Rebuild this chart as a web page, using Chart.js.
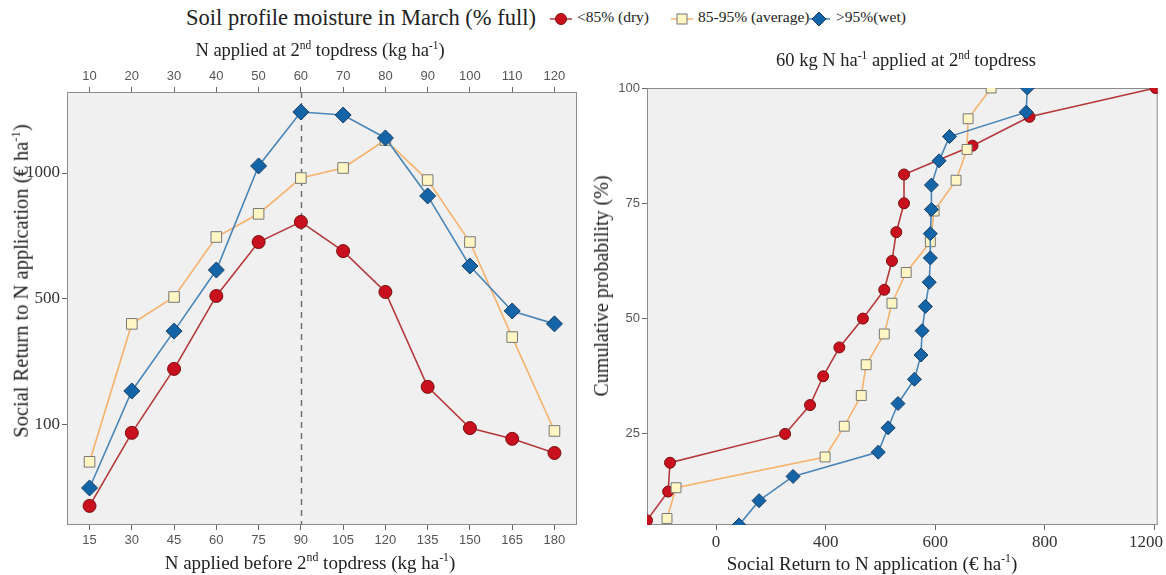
<!DOCTYPE html>
<html>
<head>
<meta charset="utf-8">
<script src="https://cdn.jsdelivr.net/npm/chart.js@4.4.1/dist/chart.umd.min.js"></script>
<style>
body{margin:0;width:1166px;height:575px;background:#fff;position:relative;overflow:hidden;font-family:"Liberation Serif",serif;color:#222;}
#leftBox{position:absolute;left:0;top:0;width:590px;height:575px;}
#rightBox{position:absolute;left:585px;top:0;width:597px;height:575px;}
.txt{position:absolute;white-space:nowrap;}
.ctr{position:absolute;white-space:nowrap;transform:translate(-50%,-50%);line-height:1;}
.vert{position:absolute;white-space:nowrap;transform:translate(-50%,-50%) rotate(-90deg);line-height:1;}
#mainTitle{left:186px;top:5px;font-size:22.5px;}
.leg{top:8px;font-size:15.5px;}
.mk{position:absolute;top:11px;}
sup{font-size:62%;vertical-align:0.6em;line-height:0;}
</style>
</head>
<body>
<div class="txt" id="mainTitle">Soil profile moisture in March (% full)</div>
<svg class="mk" style="left:549px" width="24" height="16"><line x1="1" y1="8" x2="23" y2="8" stroke="#b5383a" stroke-width="1.5"/><circle cx="12" cy="8" r="5.5" fill="#c8101e" stroke="#7a1010"/></svg>
<div class="txt leg" style="left:577px">&lt;85% (dry)</div>
<svg class="mk" style="left:670px" width="24" height="16"><line x1="1" y1="8" x2="23" y2="8" stroke="#f6b26b" stroke-width="1.5"/><rect x="7" y="3" width="10" height="10" fill="#fff6c4" stroke="#777"/></svg>
<div class="txt leg" style="left:698px">85-95% (average)</div>
<svg class="mk" style="left:807px" width="24" height="16"><line x1="1" y1="8" x2="23" y2="8" stroke="#4a86b8" stroke-width="1.5"/><polygon points="12,1 19,8 12,15 5,8" fill="#1464a8" stroke="#173f66"/></svg>
<div class="txt leg" style="left:836px">&gt;95%(wet)</div>
<div id="leftBox"><canvas id="leftChart"></canvas></div>
<div id="rightBox"><canvas id="rightChart"></canvas></div>
<div class="ctr" style="left:320px;top:50px;font-size:18.5px">N applied at 2<sup>nd</sup> topdress (kg ha<sup>-1</sup>)</div>
<div class="ctr" style="left:310px;top:562px;font-size:19px">N applied before 2<sup>nd</sup> topdress (kg ha<sup>-1</sup>)</div>
<div class="vert" style="left:21px;top:281px;font-size:20.5px">Social Return to N application (€ ha<sup>-1</sup>)</div>
<div class="ctr" style="left:906px;top:60px;font-size:18.5px">60 kg N ha<sup>-1</sup> applied at 2<sup>nd</sup> topdress</div>
<div class="vert" style="left:601px;top:286px;font-size:20px">Cumulative probability (%)</div>
<div class="ctr" style="left:872px;top:563px;font-size:19px">Social Return to N application (€ ha<sup>-1</sup>)</div>
<script>
// left panel: return vs N applied
var xBefore = [15, 30, 45, 60, 75, 90, 105, 120, 135, 150, 165, 180];
var xAt2nd = [10, 20, 30, 40, 50, 60, 70, 80, 90, 100, 110, 120];
var returnDry = [-157, 75, 278, 512, 726, 806, 690, 528, 221, 90, 56, 11];
var returnAvg = [-17, 421, 508, 746, 838, 980, 1020, 1131, 972, 726, 379, 81];
var returnWet = [-100, 208, 398, 615, 1028, 1242, 1230, 1139, 909, 631, 462, 421];
var leftYTicks = [100, 500, 1000];
var markerN = 90;

// right panel: cumulative distribution at 60 kg N
var cdfDry = [-252, -175, -168, 252, 343, 391, 425, 468, 507, 521, 529, 543, 543, 668, 772, 1204];
var probDry = [6.25, 12.5, 18.75, 25, 31.25, 37.5, 43.75, 50, 56.25, 62.5, 68.75, 75, 81.25, 87.5, 93.75, 100];
var cdfAvg = [-179, -146, 398, 434, 465, 474, 507, 521, 547, 591, 598, 638, 658, 660, 702];
var probAvg = [6.67, 13.33, 20, 26.67, 33.33, 40, 46.67, 53.33, 60, 66.67, 73.33, 80, 86.67, 93.33, 100];
var cdfWet = [84, 157, 281, 496, 514, 532, 562, 574, 576, 582, 589, 591, 591, 593, 593, 607, 626, 766, 768];
var probWet = [5.26, 10.53, 15.79, 21.05, 26.32, 31.58, 36.84, 42.11, 47.37, 52.63, 57.89, 63.16, 68.42, 73.68, 78.95, 84.21, 89.47, 94.74, 100];
var rightXTicks = [0, 400, 600, 800, 1200];
var rightYTicks = [25, 50, 75, 100];

// the published axes space their labelled ticks evenly, so map values piecewise onto tick index
function toPos(v, ticks) {
    var i = 0;
    while (i < ticks.length - 2 && v > ticks[i + 1]) i++;
    return i + (v - ticks[i]) / (ticks[i + 1] - ticks[i]);
}

var sansTick = {family: 'Liberation Sans', size: 13};
var serifTick = {family: 'Liberation Serif', size: 17};
var tickGrid = {display: true, drawOnChartArea: false, drawTicks: true, tickLength: 5, color: '#666'};

var panelBg = {
    id: 'panelBg',
    beforeDatasetsDraw: function(chart) {
        var a = chart.chartArea, ctx = chart.ctx;
        ctx.save();
        ctx.fillStyle = '#f0f0f0';
        ctx.fillRect(a.left, a.top, a.right - a.left, a.bottom - a.top);
        ctx.strokeStyle = '#8c8c8c';
        ctx.lineWidth = 1;
        ctx.strokeRect(a.left + 0.5, a.top + 0.5, a.right - a.left - 1, a.bottom - a.top - 1);
        if (chart.canvas.id == 'leftChart') {
            var x = Math.round(chart.scales.x.getPixelForValue(markerN)) + 0.5;
            ctx.strokeStyle = '#707070';
            ctx.lineWidth = 1.5;
            ctx.setLineDash([6, 5]);
            ctx.beginPath();
            ctx.moveTo(x, a.top);
            ctx.lineTo(x, a.bottom);
            ctx.stroke();
        }
        ctx.restore();
    }
};

function series(xs, ys, fn) {
    var out = [];
    for (var i = 0; i < xs.length; i++) out.push(fn(xs[i], ys[i]));
    return out;
}

var styleDry = {borderColor: '#b5383a', backgroundColor: '#c8101e', pointBorderColor: '#7a1010', pointStyle: 'circle'};
var styleAvg = {borderColor: '#f6b26b', backgroundColor: '#fff6c4', pointBorderColor: '#777777', pointStyle: 'rect'};
var styleWet = {borderColor: '#4a86b8', backgroundColor: '#1464a8', pointBorderColor: '#173f66', pointStyle: 'rectRot'};

function ds(label, data, st, r, order) {
    return {
        label: label, data: data, showLine: true, order: order,
        borderColor: st.borderColor, borderWidth: 1.6,
        pointBackgroundColor: st.backgroundColor, pointBorderColor: st.pointBorderColor,
        pointBorderWidth: 1, pointStyle: st.pointStyle, pointRadius: r, pointHoverRadius: r
    };
}

new Chart(document.getElementById('leftChart'), {
    type: 'scatter',
    data: {
        datasets: [
            ds('<85% (dry)', series(xBefore, returnDry, function(x, y) { return {x: x, y: toPos(y, leftYTicks)}; }), styleDry, 6.5, 2),
            ds('85-95% (average)', series(xBefore, returnAvg, function(x, y) { return {x: x, y: toPos(y, leftYTicks)}; }), styleAvg, 7.5, 1),
            ds('>95%(wet)', series(xBefore, returnWet, function(x, y) { return {x: x, y: toPos(y, leftYTicks)}; }), styleWet, 8, 0)
        ]
    },
    options: {
        responsive: true, maintainAspectRatio: false, animation: false,
        layout: {padding: {top: 36, right: 13, left: 0, bottom: 0}},
        plugins: {legend: {display: false}, tooltip: {enabled: false}},
        scales: {
            x: {
                type: 'linear', position: 'bottom', min: 7, max: 188,
                afterBuildTicks: function(s) { s.ticks = xBefore.map(function(v) { return {value: v}; }); },
                afterFit: function(s) { s.height = 50; },
                grid: tickGrid, border: {display: false},
                ticks: {font: sansTick, color: '#555', padding: 3, maxRotation: 0}
            },
            x2: {
                type: 'linear', position: 'top', min: 7 * 2 / 3, max: 188 * 2 / 3,
                afterBuildTicks: function(s) { s.ticks = xAt2nd.map(function(v) { return {value: v}; }); },
                afterFit: function(s) { s.height = 56; },
                grid: tickGrid, border: {display: false},
                ticks: {font: sansTick, color: '#555', padding: 3, maxRotation: 0}
            },
            y: {
                type: 'linear', min: -0.794, max: 2.643,
                afterBuildTicks: function(s) { s.ticks = leftYTicks.map(function(v, i) { return {value: i}; }); },
                afterFit: function(s) { s.width = 67; },
                grid: tickGrid, border: {display: false},
                ticks: {font: serifTick, color: '#333', padding: 2, callback: function(v, i) { return leftYTicks[i]; }}
            }
        }
    },
    plugins: [panelBg]
});

new Chart(document.getElementById('rightChart'), {
    type: 'scatter',
    data: {
        datasets: [
            ds('<85% (dry)', series(cdfDry, probDry, function(x, y) { return {x: toPos(x, rightXTicks), y: y}; }), styleDry, 5.5, 2),
            ds('85-95% (average)', series(cdfAvg, probAvg, function(x, y) { return {x: toPos(x, rightXTicks), y: y}; }), styleAvg, 7, 1),
            ds('>95%(wet)', series(cdfWet, probWet, function(x, y) { return {x: toPos(x, rightXTicks), y: y}; }), styleWet, 7, 0)
        ]
    },
    options: {
        responsive: true, maintainAspectRatio: false, animation: false,
        layout: {padding: {top: 88, right: 0, left: 0, bottom: 0}},
        plugins: {legend: {display: false}, tooltip: {enabled: false}},
        scales: {
            x: {
                type: 'linear', min: -0.63, max: 4.03,
                afterBuildTicks: function(s) { s.ticks = rightXTicks.map(function(v, i) { return {value: i}; }); },
                afterFit: function(s) { s.height = 50; },
                grid: tickGrid, border: {display: false},
                ticks: {font: serifTick, color: '#333', padding: 2, maxRotation: 0, callback: function(v, i) {
                    // last label sits at the page edge, nudge it inward
                    return i == rightXTicks.length - 1 ? rightXTicks[i] + '\u2003' : rightXTicks[i];
                }}
            },
            y: {
                type: 'linear', min: 5.25, max: 100,
                afterBuildTicks: function(s) { s.ticks = rightYTicks.map(function(v) { return {value: v}; }); },
                afterFit: function(s) { s.width = 62; },
                grid: tickGrid, border: {display: false},
                ticks: {font: sansTick, color: '#555', padding: 2}
            }
        }
    },
    plugins: [panelBg]
});
</script>
</body>
</html>
